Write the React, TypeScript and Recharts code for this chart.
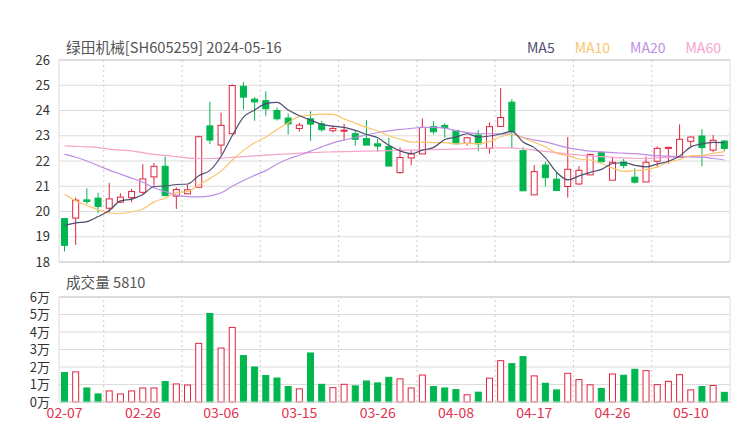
import React from 'react';
import {
  ComposedChart, Bar, Line, XAxis, YAxis, CartesianGrid, ReferenceLine,
} from 'recharts';

const dates = ['02-07','02-08','02-19','02-20','02-21','02-22','02-23','02-26','02-27','02-28','02-29','03-01','03-04','03-05','03-06','03-07','03-08','03-11','03-12','03-13','03-14','03-15','03-18','03-19','03-20','03-21','03-22','03-25','03-26','03-27','03-28','03-29','04-01','04-02','04-03','04-08','04-09','04-10','04-11','04-12','04-15','04-16','04-17','04-18','04-19','04-22','04-23','04-24','04-25','04-26','04-29','04-30','05-06','05-07','05-08','05-09','05-10','05-14','05-15','05-16'];

const opens = [19.72,19.74,20.46,20.53,20.13,20.37,20.55,20.76,21.37,21.79,20.61,20.70,20.96,23.39,22.63,23.08,24.96,24.45,24.39,24.00,23.70,23.29,23.67,23.47,23.20,23.20,23.08,22.89,22.68,22.57,21.54,22.12,22.28,23.36,23.41,23.21,22.70,23.03,22.50,23.37,24.33,22.41,20.66,21.84,21.28,20.99,21.09,21.45,22.33,21.24,21.96,21.36,21.17,21.99,22.50,22.14,22.78,22.99,22.43,22.79];
const closes = [18.66,20.45,20.40,20.20,20.50,20.57,20.79,21.29,21.79,20.63,20.87,20.86,22.96,22.83,23.41,24.99,24.53,24.34,24.07,23.67,23.47,23.42,23.46,23.24,23.29,23.22,22.86,22.63,22.59,21.80,22.14,22.28,23.33,23.16,23.32,22.68,22.92,22.68,23.36,23.72,23.16,20.82,21.58,21.34,20.83,21.67,21.63,22.26,21.97,21.95,21.82,21.16,21.95,22.50,22.54,22.86,22.95,22.53,22.82,22.50];
const highs = [19.75,20.55,20.92,20.74,21.13,20.72,20.89,21.87,21.92,22.18,20.95,21.05,23.00,24.34,23.92,25.03,25.13,24.53,24.76,24.12,23.88,23.51,23.97,23.58,23.39,23.47,23.22,23.62,22.87,22.92,22.54,22.42,23.68,23.58,23.49,23.21,22.95,23.22,23.53,24.89,24.45,22.55,21.84,21.97,21.55,22.95,21.80,22.29,22.39,22.17,22.08,21.71,22.18,22.58,22.56,23.45,22.97,23.26,23.03,22.83];
const lows = [18.42,18.68,20.29,19.93,19.97,20.33,20.37,20.68,21.03,20.60,20.10,20.70,20.96,22.67,22.26,23.08,24.04,23.59,23.79,23.60,23.05,23.16,22.80,23.16,23.13,22.83,22.61,22.63,22.37,21.80,21.50,21.83,22.28,23.05,22.93,22.68,22.61,22.39,22.29,23.37,22.50,20.82,20.66,20.99,20.83,20.55,21.05,21.45,21.95,21.24,21.71,21.11,21.17,21.75,21.89,22.14,22.57,21.79,22.36,22.39];
const volumes = [17100,17500,8300,4900,6600,4900,6600,8300,8300,12000,10600,10000,33800,50900,31100,42900,26800,20300,15400,14000,9100,7800,28300,10400,8500,10400,9500,12300,11200,14400,13500,8300,15700,9100,8300,7400,4400,5900,13900,23900,22200,26200,15200,11000,7200,16700,13100,10100,8000,16300,15600,19000,18200,10200,12100,15900,7200,9100,9700,5810];

const ma5 = [19.45,19.55,19.60,19.80,20.04,20.42,20.49,20.67,20.99,21.01,21.07,21.09,21.42,21.63,22.19,23.01,23.74,24.02,24.27,24.32,24.02,23.79,23.62,23.45,23.38,23.33,23.21,23.05,22.92,22.62,22.40,22.29,22.43,22.54,22.85,22.95,23.08,22.95,22.99,23.07,23.17,22.75,22.53,22.12,21.55,21.25,21.41,21.55,21.67,21.90,21.93,21.83,21.77,21.88,21.99,22.20,22.56,22.68,22.74,22.73];
const ma10 = [20.68,20.42,20.24,20.07,19.94,19.92,19.99,20.10,20.38,20.53,20.75,20.79,21.05,21.31,21.60,22.04,22.42,22.72,22.95,23.25,23.51,23.77,23.82,23.86,23.85,23.67,23.50,23.33,23.19,23.00,22.87,22.75,22.74,22.73,22.73,22.68,22.69,22.69,22.77,22.96,23.06,22.92,22.74,22.56,22.31,22.21,22.08,22.04,21.90,21.72,21.59,21.62,21.66,21.77,21.95,22.06,22.20,22.22,22.31,22.36];
const ma20 = [22.27,22.15,22.00,21.82,21.64,21.48,21.32,21.16,20.94,20.79,20.65,20.59,20.58,20.62,20.74,21.00,21.23,21.43,21.62,21.88,22.08,22.23,22.39,22.56,22.72,22.83,22.93,23.04,23.12,23.19,23.25,23.29,23.33,23.33,23.30,23.20,23.12,23.09,23.08,23.08,23.06,22.93,22.83,22.76,22.64,22.53,22.45,22.39,22.36,22.33,22.31,22.29,22.25,22.21,22.19,22.17,22.16,22.15,22.10,22.04];
const ma60 = [22.60,22.58,22.56,22.53,22.47,22.43,22.40,22.33,22.26,22.22,22.17,22.12,22.10,22.10,22.11,22.14,22.17,22.20,22.23,22.26,22.28,22.31,22.33,22.35,22.36,22.37,22.38,22.39,22.40,22.41,22.42,22.43,22.44,22.45,22.46,22.47,22.48,22.50,22.51,22.52,22.52,22.48,22.43,22.38,22.33,22.28,22.24,22.20,22.17,22.14,22.12,22.10,22.10,22.12,22.14,22.16,22.18,22.20,22.21,22.22];

const priceTicks = [18, 19, 20, 21, 22, 23, 24, 25, 26];
const volTicks = [0, 10000, 20000, 30000, 40000, 50000, 60000];
const splitLines = [3.5, 10.5, 17.5, 24.5, 31.5, 38.5, 45.5, 52.5];

const RED = '#e2233f';
const GREEN = '#00b64f';
const FONT = '"Noto Sans CJK SC", "Noto Sans", sans-serif';

const rows = dates.map((date, i) => ({
  date, idx: i, open: opens[i], close: closes[i], high: highs[i], low: lows[i],
  vol: volumes[i], ma5: ma5[i], ma10: ma10[i], ma20: ma20[i], ma60: ma60[i],
}));

const Candle = (props: any) => {
  const { x, y, width, height, payload } = props;
  if (!payload || x == null) return null;
  const { open, close, high, low } = payload;
  const up = close >= open;
  const color = up ? RED : GREEN;
  const h = Math.abs(height);
  const top = height >= 0 ? y : y + height;
  const ppu = h / (high - low || 1);
  const bTop = top + (high - Math.max(open, close)) * ppu;
  const bBot = top + (high - Math.min(open, close)) * ppu;
  const cx = x + width / 2;
  return (
    <g>
      <line x1={cx} x2={cx} y1={top} y2={bTop} stroke={color} strokeWidth={1} />
      <line x1={cx} x2={cx} y1={bBot} y2={top + h} stroke={color} strokeWidth={1} />
      <rect x={x + 0.5} y={bTop} width={width - 1} height={Math.max(bBot - bTop, 1)}
        fill={up ? '#fff' : color} stroke={color} strokeWidth={1} />
    </g>
  );
};

const VolBar = (props: any) => {
  const { x, y, width, height, payload } = props;
  if (!payload || x == null) return null;
  const up = payload.close >= payload.open;
  const color = up ? RED : GREEN;
  const h = Math.abs(height);
  const top = height >= 0 ? y : y + height;
  return (
    <rect x={x + 0.5} y={top + 0.5} width={width - 1} height={Math.max(h - 0.5, 0)}
      fill={up ? '#fff' : color} stroke={color} strokeWidth={1} />
  );
};

const axisTick = { fill: '#333', fontSize: 13, fontFamily: FONT };
const GRID = '#dcdcdc';
const DASH = '#cccccc';

export default function App() {
  return (
    <div style={{ position: 'absolute', left: 0, top: 0, width: 740, height: 440, background: '#fff', fontFamily: FONT }}>
      <div style={{ position: 'absolute', left: 66, top: 36, fontSize: 14.7, color: '#555', whiteSpace: 'nowrap' }}>
        绿田机械[SH605259] 2024-05-16
      </div>
      <div style={{ position: 'absolute', left: 527, top: 37, fontSize: 14, whiteSpace: 'nowrap' }}>
        <span style={{ color: '#4d4d70' }}>MA5</span>
        <span style={{ color: '#f9c46c', marginLeft: 20 }}>MA10</span>
        <span style={{ color: '#bd8ee6', marginLeft: 20 }}>MA20</span>
        <span style={{ color: '#f7a3cb', marginLeft: 20 }}>MA60</span>
      </div>
      <div style={{ position: 'absolute', left: 66, top: 271, fontSize: 14.6, color: '#555', whiteSpace: 'nowrap' }}>
        成交量 5810
      </div>

      <div style={{ position: 'absolute', left: 0, top: 0 }}>
        <ComposedChart width={740} height={270} data={rows} margin={{ top: 60, right: 10, bottom: 8, left: 0 }}>
          <CartesianGrid horizontal vertical={false} stroke={GRID} />
          <XAxis xAxisId="cat" dataKey="date" hide />
          <XAxis xAxisId="num" dataKey="idx" type="number" domain={[-0.5, 59.5]} hide allowDataOverflow />
          <YAxis domain={[18, 26]} ticks={priceTicks} interval={0} width={59} axisLine={false}
            tickLine={false} tickSize={0} tickMargin={9} tick={axisTick} />
          <ReferenceLine xAxisId="num" x={-0.5} stroke={GRID} />
          <ReferenceLine xAxisId="num" x={59.5} stroke={GRID} />
          <ReferenceLine xAxisId="num" y={26} stroke={GRID} strokeWidth={2} />
          <ReferenceLine xAxisId="num" y={18} stroke={GRID} strokeWidth={2} />
          {splitLines.map((v) => (
            <ReferenceLine key={v} xAxisId="num" x={v} stroke={DASH} strokeDasharray="2 3" />
          ))}
          <Bar xAxisId="cat" dataKey={(d: any) => [d.low, d.high]} barSize={7} shape={<Candle />} isAnimationActive={false} />
          <Line xAxisId="cat" type="monotone" dataKey="ma60" stroke="#f7a3cb" strokeWidth={1.2} dot={false} isAnimationActive={false} />
          <Line xAxisId="cat" type="monotone" dataKey="ma20" stroke="#bd8ee6" strokeWidth={1.2} dot={false} isAnimationActive={false} />
          <Line xAxisId="cat" type="monotone" dataKey="ma10" stroke="#f9c46c" strokeWidth={1.2} dot={false} isAnimationActive={false} />
          <Line xAxisId="cat" type="monotone" dataKey="ma5" stroke="#4d4d70" strokeWidth={1.2} dot={false} isAnimationActive={false} />
        </ComposedChart>
      </div>

      <div style={{ position: 'absolute', left: 0, top: 270 }}>
        <ComposedChart width={740} height={170} data={rows} margin={{ top: 27, right: 10, bottom: 0, left: 0 }}>
          <CartesianGrid horizontal vertical={false} stroke={GRID} />
          <XAxis xAxisId="cat" dataKey="date" interval={6} height={38} axisLine={{ stroke: GRID }}
            tickLine={false} tickSize={0} tickMargin={6} tick={{ fill: '#e2334f', fontSize: 14, fontFamily: FONT }} />
          <XAxis xAxisId="num" dataKey="idx" type="number" domain={[-0.5, 59.5]} hide allowDataOverflow />
          <YAxis domain={[0, 60000]} ticks={volTicks} interval={0} width={59} axisLine={false}
            tickLine={false} tickSize={0} tickMargin={9} tick={axisTick}
            tickFormatter={(v: number) => `${v / 10000}万`} />
          <ReferenceLine xAxisId="num" x={-0.5} stroke={GRID} />
          <ReferenceLine xAxisId="num" x={59.5} stroke={GRID} />
          <ReferenceLine xAxisId="num" y={60000} stroke={GRID} strokeWidth={2} />
          {splitLines.map((v) => (
            <ReferenceLine key={v} xAxisId="num" x={v} stroke={DASH} strokeDasharray="2 3" />
          ))}
          <Bar xAxisId="cat" dataKey="vol" barSize={7} shape={<VolBar />} isAnimationActive={false} />
        </ComposedChart>
      </div>
    </div>
  );
}
